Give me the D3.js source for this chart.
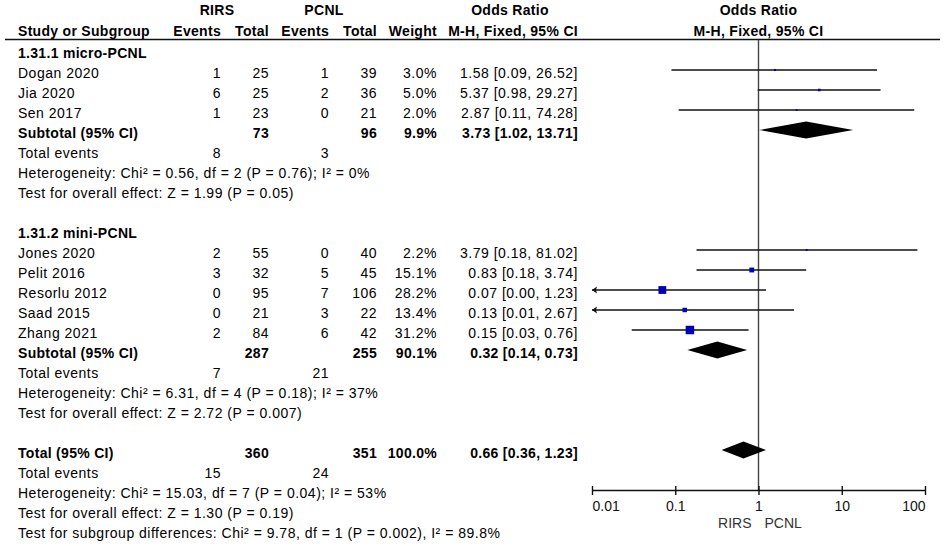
<!DOCTYPE html>
<html lang="en">
<head>
    <meta charset="UTF-8">
    <title>Forest plot</title>
    <script src="https://cdn.jsdelivr.net/npm/d3@7"></script>
    <style>
        body { margin: 0; background: white; }
        svg { font-family: "Liberation Sans", Arial, sans-serif; font-size: 14px; }
        .row text { letter-spacing: 0.5px; }
        .bold, .row.bold text { font-weight: bold; letter-spacing: 0.3px; }
        .ci { stroke: #111; stroke-width: 1.4; }
        .box { fill: #0000b4; }
    </style>
</head>
<body>
<script>
    // ---- data ----
    const studies     = ["Dogan 2020", "Jia 2020", "Sen 2017", "Jones 2020", "Pelit 2016", "Resorlu 2012", "Saad 2015", "Zhang 2021"];
    const studyGroup  = [0, 0, 0, 1, 1, 1, 1, 1];
    const rirsEvents  = [1, 6, 1, 2, 3, 0, 0, 2];
    const rirsTotal   = [25, 25, 23, 55, 32, 95, 21, 84];
    const pcnlEvents  = [1, 2, 0, 0, 5, 7, 3, 6];
    const pcnlTotal   = [39, 36, 21, 40, 45, 106, 22, 42];
    const weights     = [3.0, 5.0, 2.0, 2.2, 15.1, 28.2, 13.4, 31.2];
    const oddsRatio   = [1.58, 5.37, 2.87, 3.79, 0.83, 0.07, 0.13, 0.15];
    const ciLow       = [0.09, 0.98, 0.11, 0.18, 0.18, 0.00, 0.01, 0.03];
    const ciHigh      = [26.52, 29.27, 74.28, 81.02, 3.74, 1.23, 2.67, 0.76];

    const groupNames      = ["1.31.1 micro-PCNL", "1.31.2 mini-PCNL"];
    const groupRirsEvents = [8, 7];
    const groupRirsTotal  = [73, 287];
    const groupPcnlEvents = [3, 21];
    const groupPcnlTotal  = [96, 255];
    const groupWeight     = [9.9, 90.1];
    const groupOR         = [3.73, 0.32];
    const groupLow        = [1.02, 0.14];
    const groupHigh       = [13.71, 0.73];
    const groupHet        = ["Heterogeneity: Chi² = 0.56, df = 2 (P = 0.76); I² = 0%",
                             "Heterogeneity: Chi² = 6.31, df = 4 (P = 0.18); I² = 37%"];
    const groupEffect     = ["Test for overall effect: Z = 1.99 (P = 0.05)",
                             "Test for overall effect: Z = 2.72 (P = 0.007)"];

    const total = { rirsEvents: 15, rirsTotal: 360, pcnlEvents: 24, pcnlTotal: 351,
                    weight: 100.0, or: 0.66, low: 0.36, high: 1.23 };
    const totalNotes = ["Heterogeneity: Chi² = 15.03, df = 7 (P = 0.04); I² = 53%",
                        "Test for overall effect: Z = 1.30 (P = 0.19)",
                        "Test for subgroup differences: Chi² = 9.78, df = 1 (P = 0.002), I² = 89.8%"];

    const axisTicks   = [0.01, 0.1, 1, 10, 100];
    const favourLabels = ["RIRS", "PCNL"];

    // ---- layout ----
    const width = 945, height = 546;
    const col = { label: 18, rEv: 221, rTot: 269, pEv: 329, pTot: 377, wt: 437, ci: 578 };
    const axisY = 490;

    const svg = d3.select("body").append("svg")
        .attr("width", width).attr("height", height);

    const x = d3.scaleLog().domain([0.01, 100]).range([592, 925]);
    const y = d3.scaleLinear().domain([0, 24]).range([50, 530]);
    const boxSize = d3.scaleLinear().domain([0, 31.2]).range([1.4, 8.5]);

    const f2 = d3.format(".2f"), f1 = d3.format(".1f");
    const ciText = (m, l, h) => `${f2(m)} [${f2(l)}, ${f2(h)}]`;

    // build table rows
    const rows = [];
    let r = 0;
    groupNames.forEach((g, gi) => {
        rows.push({ i: r++, label: g, bold: true });
        studies.forEach((s, si) => {
            if (studyGroup[si] !== gi) return;
            rows.push({ i: r++, label: s, rEv: rirsEvents[si], rTot: rirsTotal[si], pEv: pcnlEvents[si],
                        pTot: pcnlTotal[si], wt: f1(weights[si]) + "%", ci: ciText(oddsRatio[si], ciLow[si], ciHigh[si]),
                        mark: "study", or: oddsRatio[si], low: ciLow[si], high: ciHigh[si], w: weights[si] });
        });
        rows.push({ i: r++, label: "Subtotal (95% CI)", bold: true, rTot: groupRirsTotal[gi], pTot: groupPcnlTotal[gi],
                    wt: f1(groupWeight[gi]) + "%", ci: ciText(groupOR[gi], groupLow[gi], groupHigh[gi]),
                    mark: "diamond", or: groupOR[gi], low: groupLow[gi], high: groupHigh[gi] });
        rows.push({ i: r++, label: "Total events", rEv: groupRirsEvents[gi], pEv: groupPcnlEvents[gi] });
        rows.push({ i: r++, label: groupHet[gi] });
        rows.push({ i: r++, label: groupEffect[gi] });
        r++; // blank line
    });
    rows.push({ i: r++, label: "Total (95% CI)", bold: true, rTot: total.rirsTotal, pTot: total.pcnlTotal,
                wt: f1(total.weight) + "%", ci: ciText(total.or, total.low, total.high),
                mark: "diamond", or: total.or, low: total.low, high: total.high });
    rows.push({ i: r++, label: "Total events", rEv: total.rirsEvents, pEv: total.pcnlEvents });
    totalNotes.forEach(t => rows.push({ i: r++, label: t }));

    // header
    const head = svg.append("g").attr("class", "bold").attr("fill", "#000");
    head.append("text").attr("x", 217).attr("y", 15).attr("text-anchor", "middle").text("RIRS");
    head.append("text").attr("x", 324).attr("y", 15).attr("text-anchor", "middle").text("PCNL");
    head.append("text").attr("x", 510).attr("y", 15).attr("text-anchor", "middle").text("Odds Ratio");
    head.append("text").attr("x", x(1)).attr("y", 15).attr("text-anchor", "middle").text("Odds Ratio");
    head.append("text").attr("x", col.label).attr("y", 36).text("Study or Subgroup");
    [["rEv", "Events"], ["rTot", "Total"], ["pEv", "Events"], ["pTot", "Total"], ["wt", "Weight"], ["ci", "M-H, Fixed, 95% CI"]]
        .forEach(([k, t]) => head.append("text").attr("x", col[k]).attr("y", 36).attr("text-anchor", "end").text(t));
    head.append("text").attr("x", x(1)).attr("y", 36).attr("text-anchor", "middle").text("M-H, Fixed, 95% CI");
    svg.append("line").attr("x1", 5).attr("x2", 940).attr("y1", 39.5).attr("y2", 39.5)
        .attr("stroke", "#111").attr("stroke-width", 1.5);

    // table text
    const rowG = svg.selectAll("g.row").data(rows).join("g")
        .attr("class", d => d.bold ? "row bold" : "row")
        .attr("transform", d => `translate(0,${y(d.i) + 8})`);
    rowG.append("text").attr("x", col.label).text(d => d.label);
    ["rEv", "rTot", "pEv", "pTot", "wt", "ci"].forEach(k => {
        rowG.filter(d => d[k] !== undefined).append("text")
            .attr("x", col[k]).attr("text-anchor", "end").text(d => d[k]);
    });

    // null line
    svg.append("line").attr("x1", x(1)).attr("x2", x(1)).attr("y1", 40).attr("y2", axisY)
        .attr("stroke", "#444").attr("stroke-width", 1.4);

    // study CIs
    const studyRows = rows.filter(d => d.mark === "study");
    const [xMin, xMax] = x.domain();
    svg.selectAll("line.ci").data(studyRows).join("line").attr("class", "ci")
        .attr("x1", d => x(Math.max(d.low, xMin))).attr("x2", d => x(Math.min(d.high, xMax)))
        .attr("y1", d => y(d.i)).attr("y2", d => y(d.i));
    svg.selectAll("path.arrow").data(studyRows.filter(d => d.low <= xMin)).join("path").attr("class", "arrow")
        .attr("fill", "#111")
        .attr("d", d => { const x0 = x(xMin), y0 = y(d.i);
            return `M${x0},${y0} L${x0 + 5},${y0 - 3.5} L${x0 + 4},${y0} L${x0 + 5},${y0 + 3.5} Z`; });
    svg.selectAll("rect.box").data(studyRows).join("rect").attr("class", "box")
        .attr("x", d => x(d.or) - boxSize(d.w) / 2).attr("y", d => y(d.i) - boxSize(d.w) / 2)
        .attr("width", d => boxSize(d.w)).attr("height", d => boxSize(d.w));

    // pooled diamonds
    svg.selectAll("path.diamond").data(rows.filter(d => d.mark === "diamond")).join("path")
        .attr("class", "diamond").attr("fill", "#000")
        .attr("d", d => `M${x(d.low)},${y(d.i)} L${x(d.or)},${y(d.i) - 8.5} L${x(d.high)},${y(d.i)} L${x(d.or)},${y(d.i) + 8.5} Z`);

    // axis
    const axis = svg.append("g").attr("transform", `translate(0,${axisY})`)
        .call(d3.axisBottom(x).tickValues(axisTicks).tickFormat(d => d).tickSizeOuter(0));
    axis.select(".domain").attr("stroke", "#111").attr("stroke-width", 1.5);
    axis.selectAll(".tick line").attr("y1", -4).attr("y2", 5).attr("stroke", "#111").attr("stroke-width", 1.4);
    axis.selectAll(".tick text").attr("y", 11).attr("fill", "#111")
        .style("font-size", "14px").style("font-family", "'Liberation Sans', Arial, sans-serif")
        .attr("text-anchor", (d, i) => i === 0 ? "start" : i === axisTicks.length - 1 ? "end" : "middle");

    svg.append("text").attr("x", x(1) - 7).attr("y", 528).attr("text-anchor", "end").attr("fill", "#333").text(favourLabels[0]);
    svg.append("text").attr("x", x(1) + 6).attr("y", 528).attr("text-anchor", "start").attr("fill", "#333").text(favourLabels[1]);
</script>
</body>
</html>
